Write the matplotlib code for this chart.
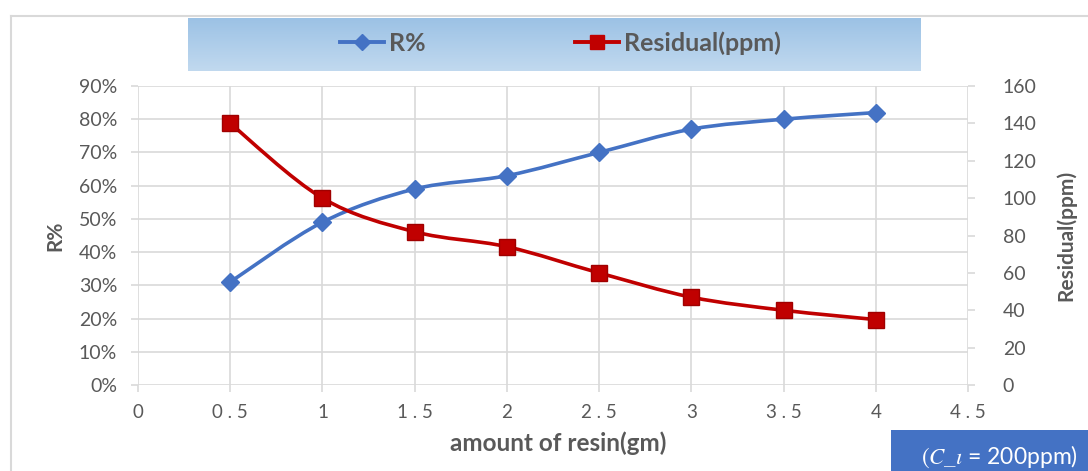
import numpy as np
import matplotlib
matplotlib.use("Agg")
import matplotlib.pyplot as plt
from matplotlib.path import Path
from matplotlib.patches import PathPatch, Rectangle
from matplotlib.lines import Line2D
from matplotlib.colors import LinearSegmentedColormap

plt.rcParams['font.family'] = ['Lato', 'DejaVu Sans']
plt.rcParams['mathtext.fontset'] = 'stix'

resin = [0.5, 1, 1.5, 2, 2.5, 3, 3.5, 4]
r_pct = [31, 49, 59, 63, 70, 77, 80, 82]
residual = [140, 100, 82, 74, 60, 47, 40, 35]
x_ticks = [0, 0.5, 1, 1.5, 2, 2.5, 3, 3.5, 4, 4.5]
left_ticks = [0, 10, 20, 30, 40, 50, 60, 70, 80, 90]
right_ticks = [0, 20, 40, 60, 80, 100, 120, 140, 160]

BLUE = '#4472c4'
RED = '#c00000'
GREY = '#595959'
GRID = '#d9d9d9'


def smooth_path(xs, ys, t=0.5):
    xs = np.asarray(xs, float); ys = np.asarray(ys, float)
    n = len(xs)
    verts = [(xs[0], ys[0])]
    codes = [Path.MOVETO]
    for i in range(n - 1):
        p0 = (xs[max(i - 1, 0)], ys[max(i - 1, 0)])
        p1 = (xs[i], ys[i]); p2 = (xs[i + 1], ys[i + 1])
        p3 = (xs[min(i + 2, n - 1)], ys[min(i + 2, n - 1)])
        c1 = (p1[0] + (p2[0] - p0[0]) * t / 3, p1[1] + (p2[1] - p0[1]) * t / 3)
        c2 = (p2[0] - (p3[0] - p1[0]) * t / 3, p2[1] - (p3[1] - p1[1]) * t / 3)
        verts += [c1, c2, p2]
        codes += [Path.CURVE4] * 3
    return Path(verts, codes)


fig = plt.figure(figsize=(10.88, 4.71), dpi=100)
ax = fig.add_axes([138 / 1088, 1 - 385 / 471, (968 - 138) / 1088, (385 - 86) / 471])
ax2 = ax.twinx()

ax.set_xlim(0, 4.5)
ax.set_ylim(0, 90)
ax2.set_ylim(0, 160)
ax.set_xticks(x_ticks)
ax.set_xticklabels([('%g' % v).replace('.', ' . ') for v in x_ticks])
ax.set_yticks(left_ticks)
ax.set_yticklabels(['%d%%' % v for v in left_ticks])
ax2.set_yticks(right_ticks)
ax2.set_yticklabels([str(v) for v in right_ticks])

ax.grid(True, color=GRID, linewidth=1.2)
ax.set_axisbelow(True)
for a in (ax, ax2):
    for s in a.spines.values():
        s.set_visible(False)
    a.tick_params(colors=GRID, labelcolor=GREY, labelsize=14, length=5, width=1.2)
ax.tick_params(axis='x', pad=9, labelsize=13.5)
ax.tick_params(axis='y', pad=10)
ax2.tick_params(axis='y', pad=20)

ax.set_xlabel('amount of resin(gm)', fontsize=17.5, fontweight='bold', color=GREY,
              va='center')
ax.xaxis.set_label_coords((558.5 - 138) / 830, (385 - 443) / 299)
ax.set_ylabel('R%', fontsize=15, fontweight='bold', color=GREY, labelpad=10)
ax2.set_ylabel('Residual(ppm)', fontsize=15, fontweight='bold', color=GREY, labelpad=14)

r_scaled = [v * 160 / 90 for v in r_pct]
ax2.add_patch(PathPatch(smooth_path(resin, r_scaled), fill=False,
                        edgecolor=BLUE, linewidth=2.6, zorder=3))
ax2.plot(resin, r_scaled, linestyle='none', marker='D', markersize=9.5,
         color=BLUE, zorder=4)
ax2.add_patch(PathPatch(smooth_path(resin, residual), fill=False, edgecolor=RED,
                        linewidth=2.6, zorder=3))
ax2.plot(resin, residual, linestyle='none', marker='s', markersize=11, color=RED,
         markeredgecolor='#a00000', zorder=4)

# figure frame (top and left lines)
fig.add_artist(Line2D([11 / 1088, 1], [1 - 16 / 471] * 2, color='#d9d9d9', linewidth=1.5,
                      transform=fig.transFigure))
fig.add_artist(Line2D([11 / 1088] * 2, [0, 1 - 16 / 471], color='#d9d9d9', linewidth=1.5,
                      transform=fig.transFigure))

# legend box with gradient
lax = fig.add_axes([188 / 1088, 1 - 71 / 471, (921 - 188) / 1088, (71 - 18) / 471])
grad = np.linspace(0, 1, 64).reshape(-1, 1)
cmap = LinearSegmentedColormap.from_list('g', ['#9cc2e5', '#c1d9ef'])
lax.imshow(grad, aspect='auto', cmap=cmap, extent=[0, 1, 0, 1], origin='upper')
lax.set_xlim(0, 1); lax.set_ylim(0, 1)
lax.axis('off')
handles = [Line2D([], [], color=BLUE, marker='D', markersize=8, linewidth=2.8),
           Line2D([], [], color=RED, marker='s', markersize=10.5, linewidth=2.8)]
lax.legend(handles, ['R%', 'Residual(ppm)'], loc='center left',
           bbox_to_anchor=((330 - 188) / 733, 0.52), ncol=2, frameon=False,
           prop={'weight': 'bold', 'size': 18}, columnspacing=6.0,
           handlelength=1.75, handletextpad=0.2, labelcolor=GREY, borderaxespad=0)

# annotation box bottom right
fig.patches.append(Rectangle((891 / 1088, 0), 1 - 891 / 1088, 41 / 471,
                             transform=fig.transFigure, facecolor=BLUE, edgecolor='none'))
fig.text((910 + 1088) / 2 / 1088, 14 / 471, r'$(C\_\imath$ = 200ppm)', color='white',
         fontsize=16.5, ha='center', va='center')

fig.savefig('out.png', dpi=100)
